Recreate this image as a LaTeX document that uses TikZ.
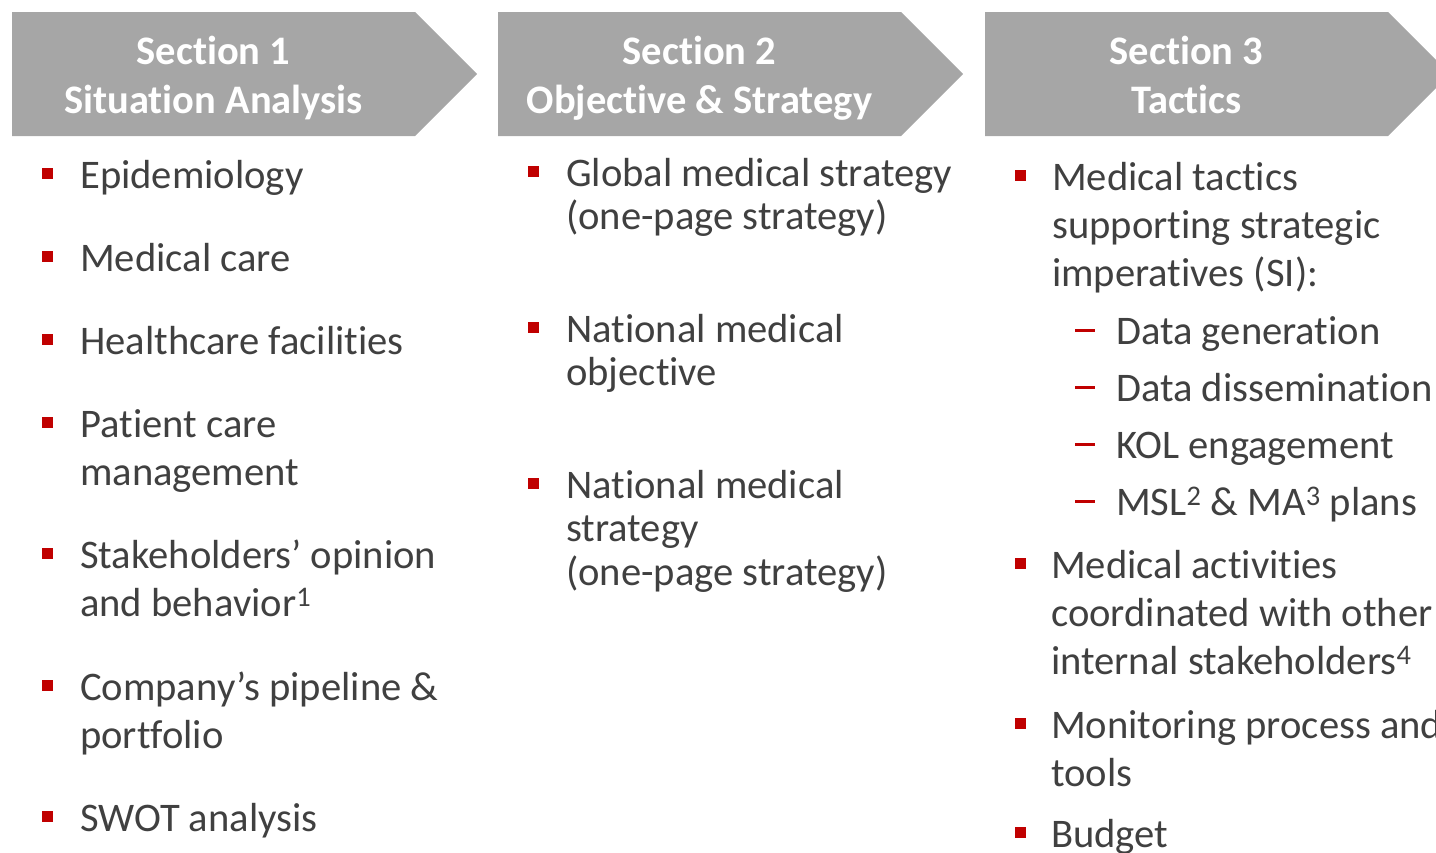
\documentclass[tikz,border=0pt]{standalone}
\usepackage{fontspec}
\setmainfont[Ligatures=NoCommon]{Carlito}
\usetikzlibrary{positioning}
\definecolor{Ink}{HTML}{404040}
\definecolor{Crimson}{HTML}{C00000}
\definecolor{Stone}{HTML}{A6A6A6}
\newcommand{\chevron}[2]{
  \fill[Stone] (#1,12) -- (#2,12) -- ++(62,62) -- ++(-62,62) -- (#1,136) -- cycle;
}
\newcommand{\sqbullet}[2]{
  \fill[Crimson] (#1-5.5,#2-20.5) rectangle ++(11,11);
}
\newcommand{\redash}[2]{
  \fill[Crimson] (#1,#2-15.5) rectangle ++(20,3);
}
% multi-line nodes are placed by the baseline of their last line
\tikzset{
  headtext/.style={font=\bfseries\fontsize{40.5}{49}\selectfont, text=white, align=center, inner sep=0pt},
  itemtext/.style={font=\fontsize{40.6}{48}\selectfont, text=Ink, align=left, inner sep=0pt, anchor=base west},
  tighttext/.style={itemtext, font=\fontsize{40.6}{43.5}\selectfont}
}
\begin{document}
\begin{tikzpicture}[x=1pt, y=-1pt]
    \useasboundingbox (0,0) rectangle (1436,852);
    \clip (0,0) rectangle (1436,852);
    % section headers
    \chevron{12}{415}
    \chevron{498}{901}
    \chevron{985}{1388}
    \node[headtext] (sec1) at (213.5,78) {Section 1\\Situation Analysis};
    \node[headtext] (sec2) at (699.5,78) {Section 2\\Objective \& Strategy};
    \node[headtext] (sec3) at (1186.5,75) {Section 3\\Tactics};
    % column 1
    \foreach \y in {188,271,354,437,568,700,831} {\sqbullet{47}{\y}}
    \node[itemtext] (epi) at (80,188) {Epidemiology};
    \node[itemtext] (care) at (80,271) {Medical care};
    \node[itemtext] (facil) at (80,354) {Healthcare facilities};
    \node[itemtext] (patient) at (80,485) {Patient care\\management};
    \node[itemtext] (stake) at (80,616) {Stakeholders’ opinion\\and behavior\textsuperscript{1}};
    \node[itemtext] (pipe) at (80,748) {Company’s pipeline \&\\portfolio};
    \node[itemtext] (swot) at (80,831) {SWOT analysis};
    % column 2
    \foreach \y in {186,342,498} {\sqbullet{533}{\y}}
    \node[tighttext] (global) at (566,229.5) {Global medical strategy\\(one-page strategy)};
    \node[tighttext] (natobj) at (566,385.5) {National medical\\objective};
    \node[tighttext] (natstrat) at (566,585) {National medical\\strategy\\(one-page strategy)};
    % column 3
    \foreach \y in {190,578,738,847} {\sqbullet{1020}{\y}}
    \node[itemtext] (tactics) at (1052,286) {Medical tactics\\supporting strategic\\imperatives (SI):};
    \foreach \y in {344,401,458,515} {\redash{1075}{\y}}
    \node[itemtext] (datagen) at (1116,344) {Data generation};
    \node[itemtext] (datadis) at (1116,401) {Data dissemination};
    \node[itemtext] (kol) at (1116,458) {KOL engagement};
    \node[itemtext] (msl) at (1116,515) {MSL\textsuperscript{2} \& MA\textsuperscript{3} plans};
    \node[itemtext] (activ) at (1051,674) {Medical activities\\coordinated with other\\internal stakeholders\textsuperscript{4}};
    \node[itemtext] (monitor) at (1051,786) {Monitoring process and\\tools};
    \node[itemtext] (budget) at (1051,847) {Budget};
\end{tikzpicture}
\end{document}
